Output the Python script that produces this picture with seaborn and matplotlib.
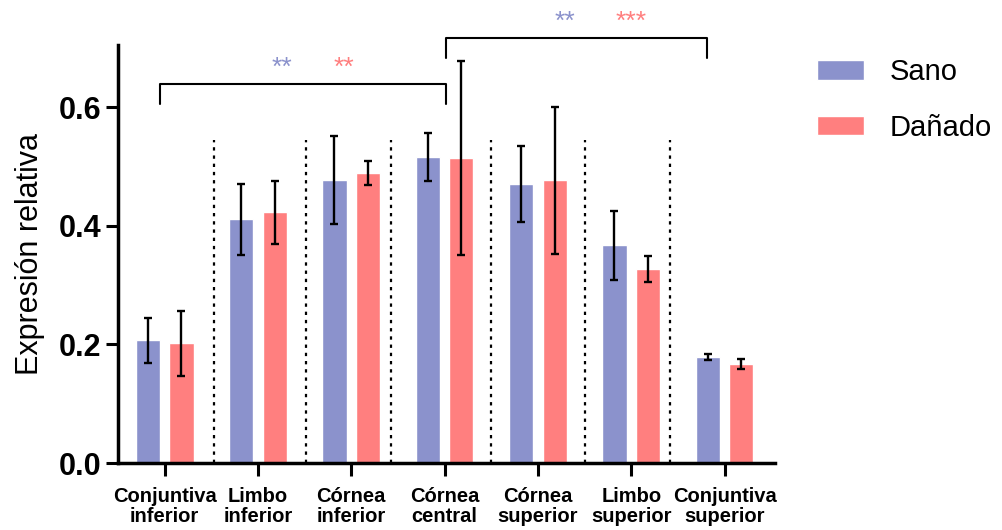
import pandas as pd
import numpy as np
import seaborn as sns
import matplotlib.pyplot as plt

# data
tejidos = ['Conjuntiva\ninferior', 'Limbo\ninferior', 'Córnea\ninferior', 'Córnea\ncentral',
           'Córnea\nsuperior', 'Limbo\nsuperior', 'Conjuntiva\nsuperior']
sano = [0.207, 0.411, 0.477, 0.516, 0.470, 0.367, 0.178]
sano_err = [0.038, 0.060, 0.074, 0.041, 0.064, 0.058, 0.005]
danado = [0.202, 0.423, 0.489, 0.514, 0.477, 0.327, 0.167]
danado_err = [0.055, 0.053, 0.020, 0.164, 0.124, 0.022, 0.009]
grupos = ['Sano', 'Dañado']
colores = ['#8B92CC', '#FF7F7F']

# separators and significance brackets (data coords)
separadores = [0.53, 1.51, 2.43, 3.5, 4.5, 5.42]
sep_top = 0.545
brackets = [(-0.05, 3.01, 0.639, 0.605), (3.01, 5.81, 0.717, 0.683)]
stars = [(1.26, 0.666, '**', 0), (1.92, 0.666, '**', 1),
         (4.29, 0.744, '**', 0), (5.00, 0.744, '***', 1)]

df = pd.DataFrame({
    'tejido': tejidos * 2,
    'valor': sano + danado,
    'grupo': [grupos[0]] * len(tejidos) + [grupos[1]] * len(tejidos),
})

sns.set_style('ticks')
plt.rcParams['font.family'] = ['Liberation Sans', 'DejaVu Sans']
plt.rcParams['text.color'] = 'black'
plt.rcParams['axes.labelcolor'] = 'black'
plt.rcParams['axes.edgecolor'] = 'black'
plt.rcParams['xtick.color'] = 'black'
plt.rcParams['ytick.color'] = 'black'

fig = plt.figure(figsize=(10.03, 5.30), dpi=100)
ax = fig.add_axes([0.1176, 0.1264, 0.655, 0.789])

sns.barplot(data=df, x='tejido', y='valor', hue='grupo', palette=colores, order=tejidos,
            width=0.72, gap=0.28, errorbar=None, saturation=1, ax=ax)

# error bars on the bar centres seaborn placed
for cont, vals, errs in zip(ax.containers, [sano, danado], [sano_err, danado_err]):
    xs = [p.get_x() + p.get_width() / 2 for p in cont.patches]
    ax.errorbar(xs, vals, yerr=errs, fmt='none', ecolor='black', elinewidth=1.7,
                capsize=3, capthick=1.7, zorder=5)

for s in separadores:
    ax.plot([s, s], [0, sep_top], color='black', lw=1.6, ls=(0, (1.5, 2.2)), zorder=1)

for x0, x1, yh, yl in brackets:
    ax.plot([x0, x0, x1, x1], [yl, yh, yh, yl], color='black', lw=1.5, clip_on=False)

for x, y, t, c in stars:
    ax.text(x, y, t, color=colores[c], fontsize=19, ha='center', va='center', clip_on=False)

ax.set_xlim(-0.5, 6.54)
ax.set_ylim(0, 0.705)
ax.set_yticks([0, 0.2, 0.4, 0.6])
ax.set_yticklabels(['0.0', '0.2', '0.4', '0.6'], fontsize=22, fontweight='bold')
ax.set_xticks(range(len(tejidos)))
ax.set_xticklabels(tejidos, fontsize=14.5, fontweight='bold', linespacing=1.1)
ax.set_xlabel('')
ax.set_ylabel('Expresión relativa', fontsize=22, labelpad=10)

ax.spines['top'].set_visible(False)
ax.spines['right'].set_visible(False)
ax.spines['left'].set_linewidth(2.5)
ax.spines['bottom'].set_linewidth(2.5)
ax.tick_params(axis='y', length=9, width=2.2, pad=3)
ax.tick_params(axis='x', length=9, width=2.2, pad=8)

handles, labels = ax.get_legend_handles_labels()
ax.legend(handles, labels, loc='upper left', bbox_to_anchor=(1.064, 0.968), frameon=False,
          fontsize=21, handlelength=1.6, handleheight=0.65, handletextpad=0.9,
          labelspacing=0.95, borderpad=0, borderaxespad=0)

fig.savefig('out.png', dpi=100)
